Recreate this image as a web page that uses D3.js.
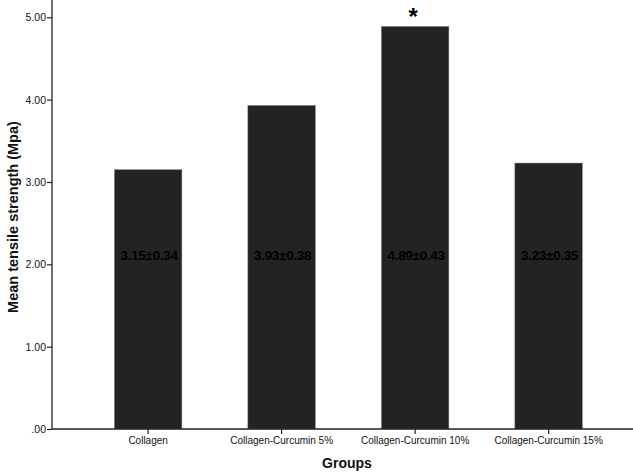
<!DOCTYPE html>
<html>
<head>
<meta charset="utf-8">
<script src="https://cdn.jsdelivr.net/npm/d3@7"></script>
<style>
  body { margin: 0; background: #fff; }
  svg { display: block; font-family: "Liberation Sans", Arial, sans-serif; }
</style>
</head>
<body>
<svg id="chart"></svg>
<script>
// data
var groups = ['Collagen', 'Collagen-Curcumin 5%', 'Collagen-Curcumin 10%', 'Collagen-Curcumin 15%'];
var means = [3.15, 3.93, 4.89, 3.23];
var sds = [0.34, 0.38, 0.43, 0.35];
var significant = [false, false, true, false];
var yTicks = [0, 1, 2, 3, 4, 5];

var w = 633, h = 473;

var svg = d3.select('#chart')
    .attr('width', w)
    .attr('height', h);

var x = d3.scaleBand()
    .domain(groups)
    .range([52, 633])
    .paddingInner(0.494)
    .paddingOuter(0.423)
    .align(0.552);

var y = d3.scaleLinear()
    .domain([0, 5.21])
    .range([429, 0]);

var fmt = function(d) {
  return d === 0 ? '.00' : d3.format('.2f')(d);
};

// bars
svg.append('g')
  .selectAll('rect')
    .data(groups)
  .enter()
    .append('rect')
    .attr('x', function(d) { return x(d); })
    .attr('y', function(d, i) { return y(means[i]); })
    .attr('width', x.bandwidth())
    .attr('height', function(d, i) { return y(0) - y(means[i]); })
    .attr('fill', '#232323')
    .attr('stroke', '#8a8a8a')
    .attr('stroke-width', 0.5);

// mean ± sd labels inside bars
svg.append('g')
  .selectAll('text')
    .data(groups)
  .enter()
    .append('text')
    .attr('x', function(d) { return x(d) + x.bandwidth() / 2 + 1; })
    .attr('y', 259.5)
    .attr('text-anchor', 'middle')
    .attr('font-size', '13.5px')
    .attr('font-weight', 'bold')
    .attr('letter-spacing', '-0.3px')
    .attr('fill', '#000')
    .text(function(d, i) { return means[i].toFixed(2) + '\u00b1' + sds[i].toFixed(2); });

// significance marker
svg.append('g')
  .selectAll('text')
    .data(groups.filter(function(d, i) { return significant[i]; }))
  .enter()
    .append('text')
    .attr('x', function(d) { return x(d) + x.bandwidth() / 2 - 2; })
    .attr('y', function(d) { return y(means[groups.indexOf(d)]) - 1; })
    .attr('text-anchor', 'middle')
    .attr('font-size', '24px')
    .attr('font-weight', 'bold')
    .attr('fill', '#000')
    .text('*');

// axes
var gY = svg.append('g')
    .attr('transform', 'translate(52,0)')
    .call(d3.axisLeft(y).tickValues(yTicks).tickFormat(fmt).tickSize(5).tickSizeOuter(0));

var gX = svg.append('g')
    .attr('transform', 'translate(0,429)')
    .call(d3.axisBottom(x).tickSize(5).tickSizeOuter(0));

gY.select('.domain').attr('d', 'M0,0V429').attr('stroke', '#222').attr('stroke-width', 1.3);
gX.select('.domain').attr('d', 'M52,0H633').attr('stroke', '#222').attr('stroke-width', 1.3);
svg.selectAll('.tick line').attr('stroke', '#222').attr('stroke-width', 1.2);

gY.selectAll('.tick text')
    .attr('font-size', '10.5px')
    .attr('font-family', '"Liberation Sans", Arial, sans-serif')
    .attr('fill', '#111')
    .attr('x', -6);

gX.selectAll('.tick text')
    .attr('font-size', '10px')
    .attr('font-family', '"Liberation Sans", Arial, sans-serif')
    .attr('fill', '#111')
    .attr('y', 8);

// axis titles
svg.append('text')
    .attr('transform', 'translate(18,217) rotate(-90)')
    .attr('text-anchor', 'middle')
    .attr('font-size', '14.5px')
    .attr('font-weight', 'bold')
    .attr('fill', '#111')
    .text('Mean tensile strength (Mpa)');

svg.append('text')
    .attr('x', 347)
    .attr('y', 467.5)
    .attr('text-anchor', 'middle')
    .attr('font-size', '14px')
    .attr('font-weight', 'bold')
    .attr('fill', '#111')
    .text('Groups');
</script>
</body>
</html>
